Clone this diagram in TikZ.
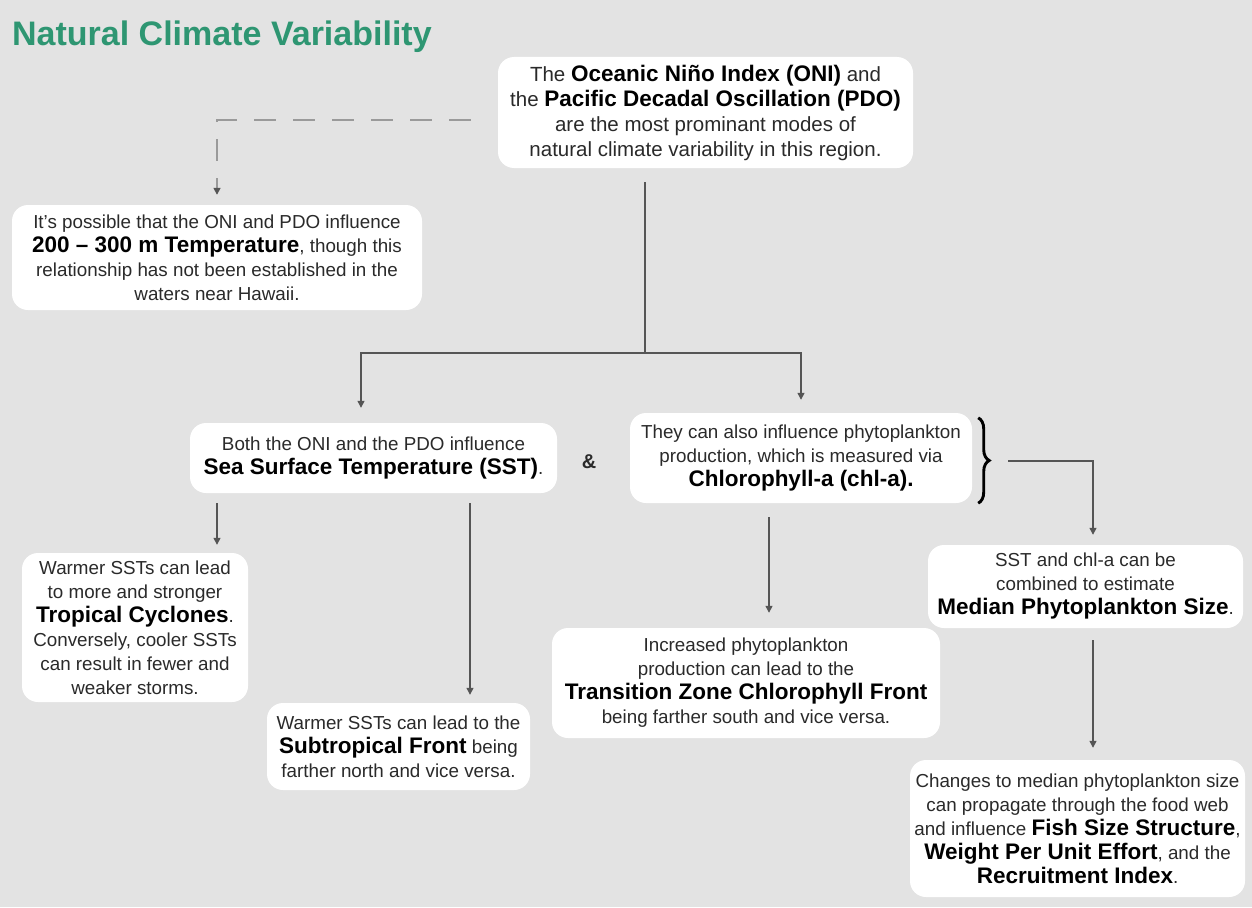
\documentclass[tikz,border=0pt]{standalone}
\usepackage{fontspec}
\setmainfont{Liberation Sans}
\usetikzlibrary{arrows.meta,decorations.pathreplacing}
\definecolor{bg}{HTML}{E3E3E3}
\definecolor{titlegreen}{HTML}{2E9672}
\definecolor{txt}{HTML}{2A2A2A}
\definecolor{conn}{HTML}{555555}
\definecolor{dashc}{HTML}{9A9A9A}
\newcommand\Bd[1]{{\fontsize{22.5}{24}\selectfont\bfseries\color{black}#1}}
\tikzset{
  box/.style={fill=white, rounded corners=16pt, inner sep=0pt, align=center, text=txt,
    font=\fontsize{18.8}{24}\selectfont},
  link/.style={draw=conn, line width=1.3pt, -{Triangle[length=7pt,width=7pt]}},
  plainlink/.style={draw=conn, line width=1.3pt},
  dlink/.style={draw=dashc, line width=1.6pt, dash pattern=on 22pt off 17pt,
    -{Triangle[length=7pt,width=7pt,color=conn]}},
}
\begin{document}
\begin{tikzpicture}[x=1pt,y=-1pt]
\fill[bg] (0,0) rectangle (1252,907);
\useasboundingbox (0,0) rectangle (1252,907);

\node[anchor=base west, text=titlegreen, font=\fontsize{34}{36}\selectfont\bfseries, inner sep=0pt]
  (title) at (12,46) {Natural Climate Variability};

\node[box, minimum width=415pt, minimum height=111pt, font=\fontsize{20.5}{25}\selectfont] (oni) at (705.5,112.5)
  {The \Bd{Oceanic Niño Index (ONI)} and\\ the \Bd{Pacific Decadal Oscillation (PDO)}\\ are the most prominant modes of\\ natural climate variability in this region.};

\node[box, minimum width=410pt, minimum height=105pt] (temp) at (217,257.5)
  {It’s possible that the ONI and PDO influence\\ \Bd{200 – 300 m Temperature}, though this\\ relationship has not been established in the\\ waters near Hawaii.};

\node[box, minimum width=367pt, minimum height=70pt] (sst) at (373.5,458)
  {Both the ONI and the PDO influence\\ \Bd{Sea Surface Temperature (SST)}.};

\node[font=\fontsize{20}{20}\selectfont\bfseries, text=txt, inner sep=0pt] (amp) at (589,462) {\&};

\node[box, minimum width=342pt, minimum height=90pt] (chl) at (801,458)
  {They can also influence phytoplankton\\ production, which is measured via\\ \Bd{Chlorophyll-a (chl-a).}};

\node[box, minimum width=315pt, minimum height=83pt] (med) at (1085.5,586.5)
  {SST and chl-a can be\\ combined to estimate\\ \Bd{Median Phytoplankton Size}.};

\node[box, minimum width=335pt, minimum height=137pt] (fish) at (1077.5,828.5)
  {Changes to median phytoplankton size\\ can propagate through the food web\\ and influence \Bd{Fish Size Structure},\\ \Bd{Weight Per Unit Effort}, and the\\ \Bd{Recruitment Index}.};

\node[box, minimum width=226pt, minimum height=149pt] (trop) at (135,627.5)
  {Warmer SSTs can lead\\ to more and stronger\\ \Bd{Tropical Cyclones}.\\ Conversely, cooler SSTs\\ can result in fewer and\\ weaker storms.};

\node[box, minimum width=263pt, minimum height=87pt] (sub) at (398.5,746.5)
  {Warmer SSTs can lead to the\\ \Bd{Subtropical Front} being\\ farther north and vice versa.};

\node[box, minimum width=388pt, minimum height=110pt] (trans) at (746,683)
  {Increased phytoplankton\\ production can lead to the\\ \Bd{Transition Zone Chlorophyll Front}\\ being farther south and vice versa.};

% helper coordinates
\coordinate (split) at (645,353);
\coordinate (tx) at (217,0);
\coordinate (sx) at (470,0);
\coordinate (cx) at (769,0);
\coordinate (mx) at (1093,0);
\coordinate (bt) at (1008,461);

% dashed link
\draw[dlink] ([xshift=-27pt,yshift=-7.5pt]oni.west) -| ([yshift=10pt]temp.north);

% main trunk
\draw[plainlink] (oni.south -| split) ++(0,14) -- (split);
\draw[link] (split) -| ([xshift=-12.5pt,yshift=15pt]sst.north);
\draw[link] (split) -| ([yshift=13pt]chl.north);

% SST branches
\draw[link] ([yshift=-10pt]sst.south -| tx) -- ([yshift=8pt]trop.north -| tx);
\draw[link] ([yshift=-10pt]sst.south -| sx) -- ([yshift=8pt]sub.north -| sx);

% chl branch
\draw[link] ([yshift=-14pt]chl.south -| cx) -- ([yshift=15pt]trans.north -| cx);

% brace
\draw[decorate, decoration={brace, amplitude=11pt}, line width=2.9pt, black]
  ([xshift=6pt,yshift=-5pt]chl.north east) -- ([xshift=6pt]chl.south east);
\draw[link] (bt) -| ([yshift=10pt]med.north -| mx);

% median to fish
\draw[link] ([yshift=-12pt]med.south -| mx) -- ([yshift=12pt]fish.north -| mx);
\end{tikzpicture}
\end{document}
